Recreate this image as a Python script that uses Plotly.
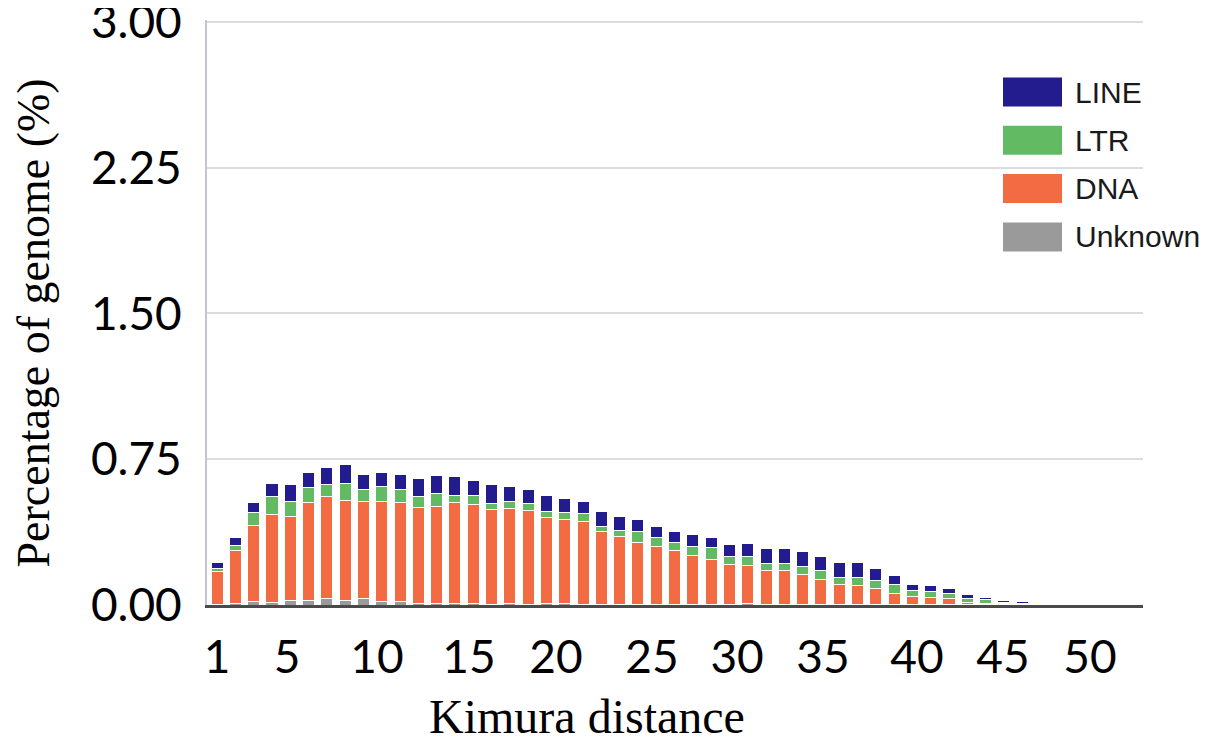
import plotly.graph_objects as go

kimura = list(range(1, 52))

unknown = [0.003, 0.010, 0.017, 0.012, 0.022, 0.021, 0.031, 0.021, 0.031, 0.017,
           0.017, 0.009, 0.009, 0.009, 0.009, 0.005, 0.009, 0.005, 0.009, 0.009,
           0.005, 0.005, 0.005, 0.005, 0.005, 0.005, 0.005, 0.005, 0.005, 0.009,
           0.005, 0.005, 0.005, 0.005, 0.005, 0.005, 0.005, 0.005, 0.002, 0.002,
           0.001, 0.001, 0.001, 0.001, 0.001, 0.001, 0.001, 0.001, 0.001, 0.0005, 0.001]

dna = [0.170, 0.268, 0.394, 0.454, 0.432, 0.505, 0.525, 0.518, 0.503, 0.514,
       0.511, 0.493, 0.500, 0.516, 0.508, 0.486, 0.487, 0.479, 0.439, 0.433,
       0.423, 0.375, 0.349, 0.315, 0.298, 0.274, 0.248, 0.227, 0.203, 0.193,
       0.171, 0.171, 0.153, 0.127, 0.101, 0.097, 0.080, 0.055, 0.040, 0.037,
       0.031, 0.013, 0.009, 0.005, 0.003, 0.001, 0.0005, 0.0005, 0.0005, 0.0015, 0.0005]

ltr = [0.015, 0.027, 0.065, 0.090, 0.077, 0.079, 0.064, 0.086, 0.062, 0.077,
       0.068, 0.054, 0.065, 0.036, 0.048, 0.031, 0.034, 0.038, 0.034, 0.034,
       0.043, 0.026, 0.031, 0.060, 0.045, 0.041, 0.050, 0.063, 0.043, 0.046,
       0.038, 0.038, 0.039, 0.044, 0.036, 0.040, 0.043, 0.043, 0.032, 0.031,
       0.029, 0.022, 0.017, 0.009, 0.006, 0.002, 0.0005, 0.0005, 0.0005, 0.0005, 0.001]

line = [0.030, 0.043, 0.051, 0.069, 0.089, 0.077, 0.085, 0.098, 0.077, 0.074,
        0.077, 0.095, 0.094, 0.098, 0.077, 0.098, 0.081, 0.072, 0.079, 0.072,
        0.060, 0.073, 0.072, 0.060, 0.058, 0.056, 0.062, 0.053, 0.062, 0.069,
        0.077, 0.077, 0.077, 0.072, 0.075, 0.075, 0.060, 0.051, 0.034, 0.031,
        0.022, 0.016, 0.012, 0.007, 0.006, 0.004, 0.0015, 0.0015, 0.001, 0.0005, 0.0005]

series_names = ["Unknown", "DNA", "LTR", "LINE"]
series_values = [unknown, dna, ltr, line]
series_colors = ["#9a9a9a", "#f26b43", "#62bb63", "#221c8e"]

x_tick_labels = ["1", "5", "10", "15", "20", "25", "30", "35", "40", "45", "50"]
x_tick_positions = [1, 4.83, 9.74, 14.77, 19.52, 24.77, 29.42, 34.11, 39.25, 43.95, 48.7]
y_tick_values = [0, 0.75, 1.5, 2.25, 3.0]
y_tick_labels = ["0.00", "0.75", "1.50", "2.25", "3.00"]

tick_font = dict(family="Liberation Sans Narrow, Lato, Liberation Sans, sans-serif", size=46, color="#000000")
serif = "Liberation Serif, Times New Roman, serif"

fig = go.Figure()
for name, vals, col in zip(series_names, series_values, series_colors):
    fig.add_trace(go.Bar(x=kimura, y=vals, name=name, marker=dict(color=col, line=dict(color="white", width=1)),
                         showlegend=False))

fig.update_layout(
    barmode="stack",
    bargap=0.34,
    width=1212, height=735,
    margin=dict(l=199, r=77, t=12, b=138, autoexpand=False),
    plot_bgcolor="white", paper_bgcolor="white",
    xaxis=dict(range=[0.45, 51.6], tickvals=x_tick_positions, ticktext=x_tick_labels,
               tickfont=tick_font, showgrid=False, showline=True, linecolor="#4a4a4a", linewidth=3,
               ticks="", ticklabelstandoff=10, zeroline=False, automargin=False),
    yaxis=dict(range=[0, 3.01], tickvals=y_tick_values, ticktext=y_tick_labels,
               tickfont=tick_font, showgrid=True, gridcolor="#dcdcdc", gridwidth=2,
               showline=True, linecolor="#c4c4d4", linewidth=2, ticks="", ticklabelstandoff=14,
               ticklabeloverflow="allow", zeroline=False, automargin=False),
)

# axis titles
fig.add_annotation(text="Kimura distance", xref="paper", yref="paper", x=0.406, y=0, yshift=-111,
                   xanchor="center", yanchor="middle", showarrow=False, borderpad=0,
                   font=dict(family=serif, size=48, color="#000000"))
fig.add_annotation(text="Percentage of genome (%)", xref="paper", yref="paper", x=0, y=0.5, xshift=-174,
                   yshift=-11, textangle=-90, xanchor="center", yanchor="middle", showarrow=False,
                   font=dict(family=serif, size=46, color="#000000"))

# legend (drawn manually to match large swatches)
legend_order = list(zip(series_names, series_colors))[::-1]
for i, (name, col) in enumerate(legend_order):
    yc = 92 + i * 48.3
    fig.add_shape(type="rect", xref="paper", yref="paper",
                  x0=(1003 - 207) / 936, x1=(1062 - 207) / 936,
                  y0=(605 - (yc + 14.5)) / 585, y1=(605 - (yc - 14.5)) / 585,
                  fillcolor=col, line=dict(width=0), layer="above")
    fig.add_annotation(text=name, xref="paper", yref="paper", x=(1073 - 207) / 936,
                       y=(605 - yc) / 585, xanchor="left", yanchor="middle", showarrow=False,
                       font=dict(family="Liberation Sans, Arial, sans-serif", size=30, color="#1a1a1a"))

fig.write_html("out.html")
